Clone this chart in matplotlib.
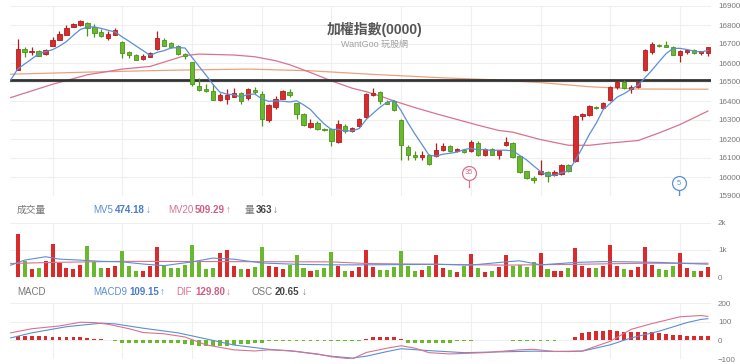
import matplotlib
matplotlib.use("Agg")
import matplotlib.pyplot as plt
import numpy as np

plt.rcParams['font.family'] = ['Liberation Sans', 'Noto Sans CJK TC', 'DejaVu Sans']

# daily OHLC (index 0..99)
opens = [16563, 16674, 16656, 16661, 16647, 16691, 16722, 16748, 16792, 16798,
         16810, 16788, 16762, 16732, 16750, 16713, 16656, 16642, 16621, 16629,
         16674, 16723, 16704, 16688, 16647, 16603, 16480, 16462, 16453, 16405,
         16412, 16423, 16444, 16414, 16458, 16435, 16298, 16368, 16412, 16448,
         16388, 16333, 16262, 16285, 16255, 16250, 16183, 16267, 16241, 16267,
         16315, 16432, 16449, 16396, 16400, 16298, 16156, 16117, 16103, 16117,
         16108, 16140, 16162, 16135, 16144, 16135, 16179, 16114, 16147, 16118,
         16167, 16179, 16108, 16029, 15997, 16017, 16025, 16008, 16017, 16064,
         16082, 16321, 16326, 16368, 16361, 16405, 16474, 16502, 16465, 16474,
         16563, 16656, 16697, 16697, 16682, 16644, 16660, 16669, 16651, 16651]
highs = [16727, 16686, 16686, 16669, 16674, 16735, 16771, 16798, 16810, 16825,
         16815, 16803, 16780, 16771, 16785, 16718, 16665, 16647, 16647, 16656,
         16767, 16730, 16710, 16693, 16651, 16603, 16520, 16490, 16488, 16440,
         16462, 16467, 16450, 16470, 16475, 16453, 16383, 16427, 16458, 16463,
         16391, 16338, 16303, 16294, 16260, 16258, 16298, 16277, 16263, 16312,
         16444, 16467, 16453, 16405, 16405, 16303, 16167, 16135, 16135, 16121,
         16179, 16179, 16170, 16153, 16149, 16197, 16188, 16153, 16153, 16144,
         16209, 16184, 16112, 16033, 16006, 16091, 16033, 16038, 16070, 16070,
         16324, 16338, 16379, 16374, 16395, 16479, 16506, 16510, 16485, 16506,
         16672, 16712, 16701, 16714, 16690, 16669, 16674, 16672, 16665, 16686]
lows = [16563, 16629, 16644, 16635, 16644, 16691, 16720, 16745, 16788, 16795,
        16741, 16739, 16739, 16722, 16745, 16624, 16626, 16616, 16616, 16629,
        16670, 16689, 16680, 16644, 16621, 16480, 16453, 16448, 16405, 16400,
        16383, 16422, 16385, 16405, 16437, 16267, 16290, 16358, 16408, 16423,
        16306, 16267, 16259, 16250, 16240, 16161, 16179, 16232, 16236, 16263,
        16311, 16428, 16383, 16383, 16346, 16091, 16091, 16091, 16091, 16065,
        16105, 16139, 16131, 16131, 16124, 16131, 16109, 16109, 16114, 16096,
        16162, 16100, 16022, 15990, 15971, 16011, 15976, 16003, 16011, 16026,
        16078, 16298, 16321, 16356, 16356, 16402, 16462, 16462, 16444, 16470,
        16559, 16650, 16686, 16682, 16640, 16603, 16647, 16647, 16644, 16639]
closes = [16674, 16656, 16665, 16638, 16669, 16722, 16753, 16785, 16803, 16820,
          16785, 16757, 16744, 16753, 16776, 16653, 16644, 16617, 16635, 16651,
          16732, 16691, 16686, 16647, 16638, 16488, 16458, 16453, 16405, 16432,
          16430, 16444, 16400, 16462, 16449, 16303, 16377, 16412, 16453, 16430,
          16333, 16273, 16285, 16255, 16245, 16192, 16277, 16241, 16258, 16306,
          16435, 16441, 16400, 16386, 16351, 16167, 16114, 16107, 16117, 16068,
          16144, 16162, 16135, 16147, 16130, 16183, 16118, 16147, 16118, 16140,
          16183, 16103, 16025, 15997, 15985, 16034, 16003, 16024, 16064, 16029,
          16321, 16333, 16374, 16361, 16391, 16476, 16501, 16467, 16476, 16502,
          16669, 16700, 16688, 16686, 16644, 16665, 16670, 16651, 16661, 16683]
volume = [1587, 600, 312, 337, 587, 1212, 525, 337, 287, 437,
          1150, 562, 337, 337, 412, 975, 400, 212, 237, 400,
          1125, 412, 337, 337, 437, 1187, 562, 287, 337, 900,
          1000, 400, 287, 287, 375, 1100, 400, 375, 287, 462,
          812, 337, 212, 250, 337, 912, 400, 225, 212, 375,
          1000, 375, 250, 250, 375, 962, 400, 212, 250, 412,
          812, 337, 250, 187, 412, 850, 337, 187, 212, 375,
          812, 412, 437, 375, 562, 875, 312, 212, 212, 337,
          1087, 400, 337, 337, 400, 1187, 412, 312, 250, 375,
          1125, 462, 312, 250, 400, 900, 337, 212, 212, 363]
osc = [22, 24, 24, 22, 22, 20, 20, 18, 18, 16,
       10, 8, 6, 1, -1, -12, -14, -15, -15, -15,
       -14, -13, -14, -16, -18, -24, -30, -33, -33, -30,
       -28, -24, -20, -17, -15, -14, -4, -3, -3, -3,
       -3, -3, -3, -3, -3, -3, -3, -3, -3, -2,
       5, 20, 20, 20, 18, 8, -12, -15, -16, -16,
       -15, -14, -12, -4, -3, -2, 3, 3, 4, 3,
       2, -4, -5, -5, -6, -5, -4, -3, 0, 0,
       18, 37, 46, 50, 50, 55, 50, 46, 46, 46,
       46, 44, 40, 35, 31, 27, 24, 22, 21, 20.65]

# moving averages (MA5 per day from index -1, others sampled)
ma5 = [16511, 16568, 16595, 16621, 16648, 16660, 16670, 16689, 16713, 16746, 16777,
       16789, 16790, 16782, 16772, 16763, 16737, 16714, 16689, 16665, 16640,
       16656, 16665, 16679, 16681, 16679, 16630, 16583, 16537, 16488, 16447,
       16436, 16433, 16422, 16434, 16437, 16412, 16398, 16401, 16399, 16395,
       16401, 16380, 16355, 16315, 16278, 16250, 16251, 16242, 16243, 16255,
       16303, 16336, 16368, 16394, 16403, 16349, 16284, 16225, 16171, 16115,
       16110, 16120, 16125, 16131, 16144, 16151, 16143, 16145, 16139, 16141,
       16141, 16138, 16114, 16090, 16059, 16029, 16009, 16009, 16022, 16031,
       16088, 16154, 16224, 16284, 16356, 16387, 16421, 16439, 16462, 16484,
       16523, 16563, 16607, 16649, 16677, 16677, 16671, 16663, 16658, 16666]
ma20_x = [-1, 5, 10, 15, 19, 24, 26, 31, 34, 37, 39, 42, 45, 48, 50, 52, 54, 57,
          60, 63, 66, 69, 71, 75, 79, 82, 85, 89, 92, 95, 99]
ma20 = [16418, 16488, 16538, 16568, 16582, 16639, 16647, 16642, 16633, 16612, 16591,
        16550, 16506, 16467, 16449, 16426, 16400, 16365, 16333, 16303, 16273, 16245,
        16236, 16197, 16167, 16167, 16179, 16192, 16232, 16276, 16347]
ma60_x = [-1, 10, 22, 33, 42, 51, 61, 68, 75, 82, 89, 99]
ma60 = [16541, 16552, 16562, 16568, 16559, 16540, 16522, 16512, 16497, 16475, 16463, 16462]
level = 16508

mv5_x = [-1, 1, 4, 6, 9, 12, 15, 18, 21, 25, 28, 31, 35, 40, 45, 50, 55, 60, 65,
         70, 72, 75, 80, 84, 88, 92, 96, 99]
mv5 = [437, 625, 750, 662, 625, 580, 560, 480, 420, 560, 700, 660, 520, 470, 450,
       450, 460, 470, 440, 560, 600, 450, 540, 570, 560, 540, 500, 474]
mv20_x = [-1, 5, 15, 30, 45, 50, 60, 70, 80, 90, 99]
mv20 = [500, 540, 580, 570, 560, 500, 470, 440, 470, 510, 509]

dif_x = [-1, 2, 6, 9, 11, 13, 16, 18, 21, 24, 27, 31, 34, 36, 39, 43, 45, 48, 50,
         53, 55, 57, 59, 62, 67, 72, 74, 77, 81, 85, 88, 91, 95, 98, 99]
dif = [40, 62, 77, 97, 95, 86, 62, 42, 35, 18, -24, -51, -57, -51, -55, -73, -88,
       -100, -65, -42, -29, -42, -66, -73, -66, -51, -48, -60, -57, -5, 59, 90, 126,
       133, 128]
sig_x = [-1, 2, 7, 12, 14, 18, 23, 27, 31, 36, 40, 45, 48, 50, 53, 55, 59, 64, 69,
         74, 79, 81, 85, 88, 92, 96, 98, 99]
sig = [13, 40, 73, 92, 88, 65, 40, 8, -25, -48, -60, -85, -95, -85, -60, -45, -55,
       -66, -62, -58, -60, -58, -24, 13, 49, 95, 112, 116]

RED = '#d92b2b'
RED_E = '#b01e1e'
GREEN = '#69b92c'
GREEN_E = '#4c931b'
BLUE = '#5b8fd6'
PINK = '#d9728f'
ORANGE = '#eba27c'
GRID = '#efefef'
TICK = '#777777'

W, H = 740, 364
fig = plt.figure(figsize=(W / 100, H / 100), dpi=100)


def box(top, bottom, left=10, right=711):
    return [left / W, 1 - bottom / H, (right - left) / W, (bottom - top) / H]


def ftext(x, y, s, **kw):
    fig.text(x / W, 1 - y / H, s, va='center', **kw)


ax = fig.add_axes(box(6, 196))
axv = fig.add_axes(box(223, 277))
axm = fig.add_axes(box(303, 359))

idx = np.arange(len(closes))
up = np.array(closes) >= np.array(opens)

for a in (ax, axv, axm):
    a.set_xlim(-1.1, 99.45)
    for s in a.spines.values():
        s.set_visible(False)
    a.yaxis.tick_right()
    a.tick_params(axis='y', length=0, pad=5, labelsize=5.8, labelcolor=TICK)
    a.tick_params(axis='x', length=0, labelbottom=False)
    a.set_xticks(np.arange(5, 100, 10))
    a.grid(color=GRID, linewidth=0.8)
    a.set_axisbelow(True)

# main candles
ax.set_ylim(15900, 16900)
ax.set_yticks(np.arange(15900, 16901, 100))
ax.plot(ma60_x, ma60, color=ORANGE, lw=0.9, zorder=2)
ax.plot(ma20_x, ma20, color=PINK, lw=0.9, zorder=2)
ax.axhline(level, color='#333333', lw=2, zorder=3)
for i in idx:
    o, c, h, l = opens[i], closes[i], highs[i], lows[i]
    ec = RED_E if up[i] else GREEN_E
    fc = RED if up[i] else GREEN
    ax.vlines(i, l, h, color=ec, lw=0.9, zorder=4)
    body = max(abs(c - o), 6)
    ax.bar(i, body, bottom=min(o, c), width=0.62, color=fc, edgecolor=ec,
           linewidth=0.6, zorder=5)
ax.plot(np.arange(-1, 100), ma5, color=BLUE, lw=0.9, zorder=6)

# day-count markers
for xm, ym, ylo, txt, col in [(64.7, 16023, 15950, '35', PINK), (94.8, 15968, 15903, '5', BLUE)]:
    ax.plot([xm, xm], [ylo, ym], color=col, lw=0.9, zorder=6)
    ax.plot(xm, ym, 'o', ms=10, mfc='white', mec=col, mew=0.9, zorder=7)
    ax.text(xm, ym, txt, color=col, fontsize=5.5, ha='center', va='center', zorder=8)

ax.text(0.52, 0.875, '加權指數(0000)', transform=ax.transAxes, ha='center', va='center',
        fontsize=10, fontweight='bold', color='#555555')
ax.text(0.52, 0.8, 'WantGoo 玩股網', transform=ax.transAxes, ha='center', va='center',
        fontsize=6.5, color='#a0a0a0')

# volume
axv.set_ylim(0, 2000)
axv.set_yticks([0, 1000, 2000])
axv.set_yticklabels(['0', '1k', '2k'])
vcol = [RED if u else GREEN for u in up]
axv.bar(idx, volume, width=0.58, color=vcol, zorder=3)
axv.plot(mv20_x, mv20, color=PINK, lw=0.8, zorder=4)
axv.plot(mv5_x, mv5, color=BLUE, lw=0.8, zorder=4)

# MACD
axm.set_ylim(-100, 200)
axm.set_yticks([-100, 0, 100, 200])
ocol = [RED if v >= 0 else GREEN for v in osc]
axm.bar(idx, osc, width=0.55, color=ocol, zorder=3)
axm.plot(sig_x, sig, color=BLUE, lw=0.8, zorder=4)
axm.plot(dif_x, dif, color=PINK, lw=0.8, zorder=4)

# header rows
ftext(17, 210, '成交量', fontsize=7, color='#777777')
ftext(93, 210, 'MV5', fontsize=7, color=BLUE)
ftext(115, 210, '474.18', fontsize=7, color='#4a7cc9', fontweight='bold')
ftext(146, 210, '↓', fontsize=7, color=BLUE)
ftext(168, 210, 'MV20', fontsize=7, color=PINK)
ftext(195, 210, '509.29', fontsize=7, color='#cf5f80', fontweight='bold')
ftext(226, 210, '↑', fontsize=7, color=PINK)
ftext(245, 210, '量', fontsize=7, color='#777777')
ftext(256, 210, '363', fontsize=7, color='#444444', fontweight='bold')
ftext(273, 210, '↓', fontsize=7, color='#777777')

ftext(17, 292, 'MACD', fontsize=7, color='#777777')
ftext(93, 292, 'MACD9', fontsize=7, color=BLUE)
ftext(129, 292, '109.15', fontsize=7, color='#4a7cc9', fontweight='bold')
ftext(160, 292, '↑', fontsize=7, color=BLUE)
ftext(176, 292, 'DIF', fontsize=7, color=PINK)
ftext(195, 292, '129.80', fontsize=7, color='#cf5f80', fontweight='bold')
ftext(226, 292, '↓', fontsize=7, color=PINK)
ftext(252, 292, 'OSC', fontsize=7, color='#777777')
ftext(275, 292, '20.65', fontsize=7, color='#444444', fontweight='bold')
ftext(302, 292, '↓', fontsize=7, color='#777777')

fig.savefig('out.png', dpi=100, facecolor='white')
